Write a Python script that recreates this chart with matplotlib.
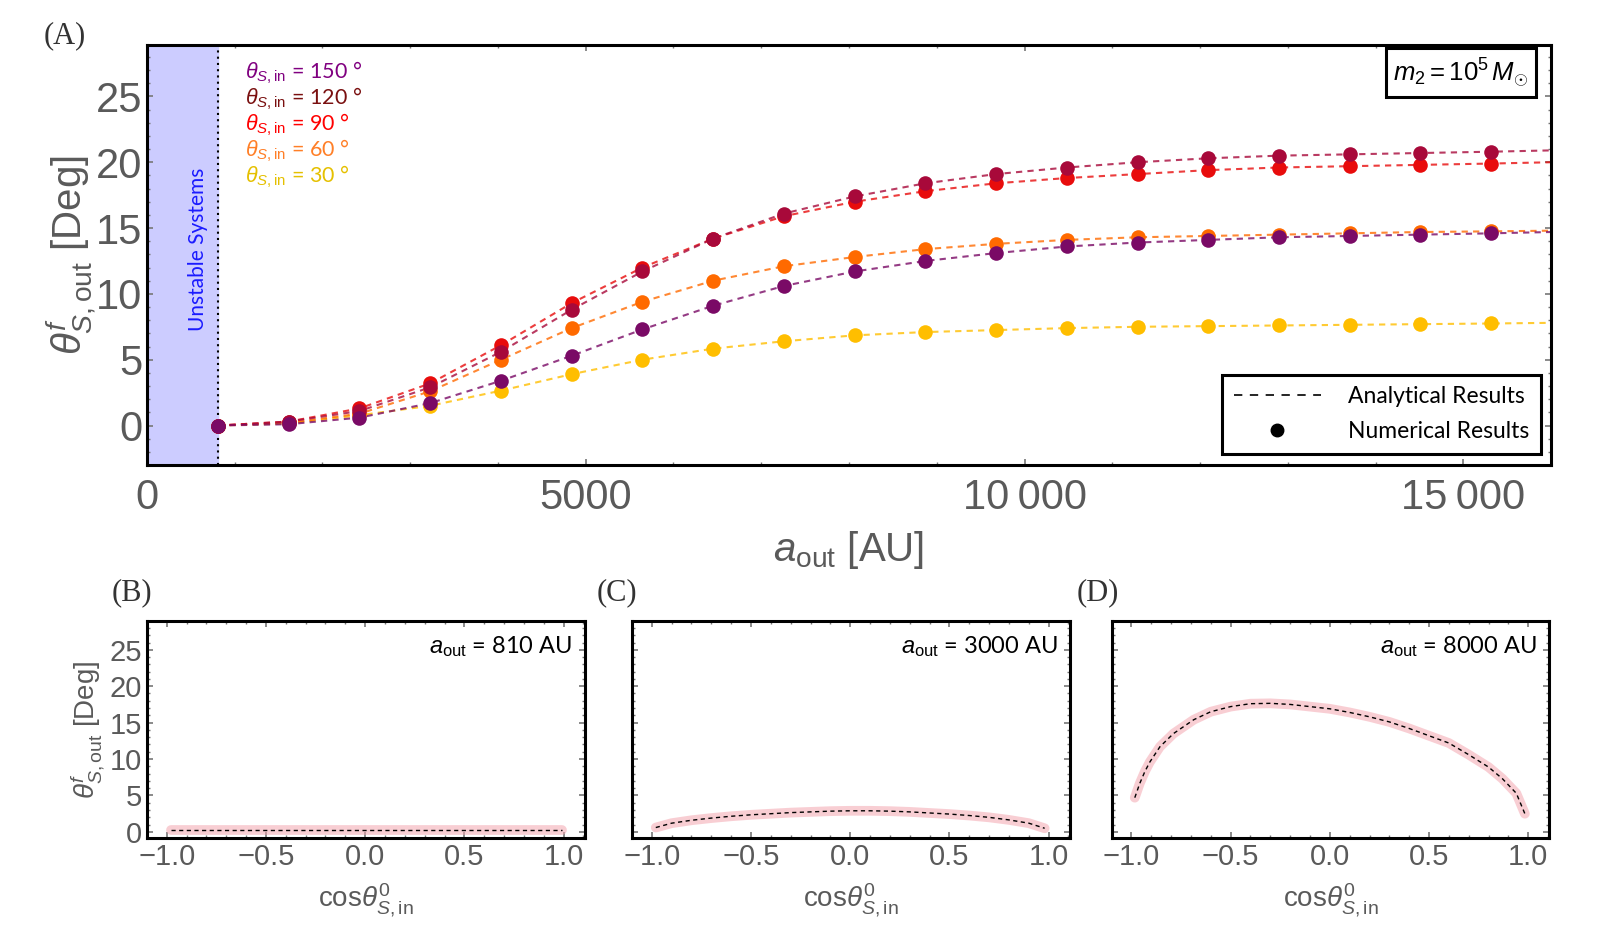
import numpy as np
import matplotlib
matplotlib.use("Agg")
from matplotlib import pyplot as plt
from matplotlib.lines import Line2D
from matplotlib.ticker import MultipleLocator, FixedLocator, FuncFormatter

plt.rcParams['font.family'] = ['Liberation Sans', 'DejaVu Sans']
plt.rcParams['mathtext.fontset'] = 'custom'
plt.rcParams['mathtext.rm'] = 'Liberation Sans'
plt.rcParams['mathtext.it'] = 'Liberation Sans:italic'
plt.rcParams['mathtext.bf'] = 'Liberation Sans:bold'

# main panel (A): a_out in AU, final spin-orbit angle in degrees
a_out = [810, 1616, 2422, 3228, 4034, 4840, 5646, 6452, 7258, 8064,
         8870, 9676, 10482, 11288, 12094, 12900, 13706, 14512, 15318]
a_end = 16000
theta150 = [0, 0.1, 0.6, 1.7, 3.4, 5.3, 7.3, 9.1, 10.6, 11.7, 12.5, 13.1, 13.6, 13.9, 14.1, 14.3, 14.4, 14.5, 14.6]
theta120 = [0, 0.3, 1.1, 2.9, 5.6, 8.8, 11.7, 14.2, 16.1, 17.4, 18.4, 19.1, 19.6, 20.0, 20.3, 20.5, 20.6, 20.7, 20.8]
theta90 = [0, 0.3, 1.3, 3.2, 6.1, 9.3, 12.0, 14.2, 15.9, 17.0, 17.8, 18.4, 18.8, 19.1, 19.4, 19.6, 19.7, 19.8, 19.9]
theta60 = [0, 0.2, 0.9, 2.6, 5.0, 7.4, 9.4, 11.0, 12.1, 12.8, 13.4, 13.8, 14.1, 14.3, 14.4, 14.5, 14.6, 14.7, 14.75]
theta30 = [0, 0.16, 0.78, 1.5, 2.65, 3.9, 5.0, 5.84, 6.4, 6.85, 7.1, 7.25, 7.4, 7.5, 7.55, 7.6, 7.65, 7.7, 7.75]
end_vals = {150: 14.7, 120: 20.9, 90: 20.0, 60: 14.8, 30: 7.8}
unstable_limit = 810

series = {150: theta150, 120: theta120, 90: theta90, 60: theta60, 30: theta30}
marker_col = {150: '#7a0a66', 120: '#a8093a', 90: '#e80c0c', 60: '#ff6a00', 30: '#ffbe00'}
text_col = {150: '#800080', 120: '#7a1010', 90: '#ff0000', 60: '#ff7f27', 30: '#e5c000'}
draw_order = [30, 60, 90, 120, 150]
label_order = [150, 120, 90, 60, 30]

# lower panels: cos(theta_in^0) vs final angle
cos_b = [-0.98, -0.5, 0.0, 0.5, 0.99]
val_b = [0.2, 0.2, 0.2, 0.2, 0.2]
cos_c = [-0.98, -0.9, -0.8, -0.7, -0.6, -0.5, -0.4, -0.3, -0.2, -0.1, 0.0,
         0.1, 0.2, 0.3, 0.4, 0.5, 0.6, 0.7, 0.8, 0.9, 0.98]
val_c = [0.6, 1.2, 1.6, 1.9, 2.15, 2.35, 2.5, 2.65, 2.75, 2.85, 2.9,
         2.9, 2.85, 2.75, 2.6, 2.45, 2.25, 2.0, 1.65, 1.2, 0.5]
cos_d = [-0.983, -0.958, -0.932, -0.907, -0.856, -0.788, -0.686, -0.6, -0.5, -0.4, -0.3, -0.2,
         -0.1, 0.0, 0.1, 0.2, 0.3, 0.4, 0.5, 0.6, 0.7, 0.8, 0.87, 0.94, 0.983]
val_d = [4.7, 6.65, 8.3, 9.6, 11.7, 13.5, 15.4, 16.5, 17.2, 17.6, 17.65, 17.5,
         17.2, 16.9, 16.4, 15.8, 15.1, 14.2, 13.2, 12.2, 10.6, 8.9, 7.3, 5.3, 2.5]
panel_aout = [810, 3000, 8000]

gray = '#5a5a5a'
text_font = 'Lato'


def style_frame(ax, size):
    for s in ax.spines.values():
        s.set_linewidth(2.2)
        s.set_color('black')
    ax.tick_params(which='both', direction='in', top=True, right=True, colors='#777777',
                   labelcolor=gray, labelsize=size)
    ax.tick_params(which='major', length=4, width=1.2)
    ax.tick_params(which='minor', length=2.5, width=1.0)


fig = plt.figure(figsize=(16.04, 9.49), dpi=100)

# ---- panel A ----
ax = fig.add_axes([0.0916, 0.510, 0.8754, 0.4425])
ax.set_xlim(0, 16000)
ax.set_ylim(-3, 28.9)
ax.axvspan(0, unstable_limit, color='#ccccff', zorder=0)
ax.axvline(unstable_limit, color='black', ls=(0, (1, 2)), lw=1.5, zorder=1)

for th in draw_order:
    ax.plot(a_out + [a_end], series[th] + [end_vals[th]], ls=(0, (3, 2.5)), lw=1.5,
            color=marker_col[th], alpha=0.8, zorder=2)
for th in draw_order:
    ax.plot(a_out, series[th], 'o', ms=10.5, color=marker_col[th], mec='none', zorder=3)

ax.xaxis.set_major_locator(FixedLocator([0, 5000, 10000, 15000]))
ax.set_xticklabels(['0', '5000', '10\u2009000', '15\u2009000'])
ax.xaxis.set_minor_locator(MultipleLocator(1000))
ax.yaxis.set_major_locator(MultipleLocator(5))
ax.yaxis.set_minor_locator(MultipleLocator(1))
style_frame(ax, 30)
ax.tick_params(axis='x', pad=9)
ax.set_xlabel(r'$a_{\mathrm{out}}$ [AU]', fontsize=29, color=gray, labelpad=8)
ax.set_ylabel(r'$\theta^{f}_{S,\mathrm{out}}$ [Deg]', fontsize=29, color=gray, labelpad=-2)

ax.text(580, 13.4, 'Unstable Systems', rotation=90, color='#1a1aff', fontsize=15,
        fontfamily=text_font, ha='center', va='center')

for i, th in enumerate(label_order):
    ax.text(0.070, 0.935 - i * 0.062, r'$\theta_{S,\mathrm{in}}$ = %d °' % th,
            transform=ax.transAxes, color=text_col[th], fontsize=15.5, fontfamily=text_font,
            va='center', ha='left')

ax.text(0.984, 0.934, r'$m_2 = 10^5\,M_{\odot}$', transform=ax.transAxes, ha='right', va='center',
        fontsize=18.5, fontfamily=text_font,
        bbox=dict(boxstyle='square,pad=0.3', fc='white', ec='black', lw=2.2))

handles = [Line2D([], [], color='black', ls=(0, (5, 4.5)), lw=1.2),
           Line2D([], [], color='black', marker='o', ls='none', ms=9)]
leg = ax.legend(handles, ['Analytical Results', 'Numerical Results'], loc='lower right',
                bbox_to_anchor=(0.9927, 0.027), borderaxespad=0,
                prop={'family': text_font, 'size': 16.5},
                handlelength=3.8, handletextpad=1.2, borderpad=0.5, labelspacing=0.6,
                fancybox=False, edgecolor='black', framealpha=1)
leg.get_frame().set_linewidth(2.2)

fig.text(0.027, 0.962, '(A)', fontsize=22, fontfamily='Liberation Serif', color='#333333', va='center')

# ---- panels B, C, D ----
lefts = [0.0916, 0.394, 0.693]
labels = ['(B)', '(C)', '(D)']
data = [(cos_b, val_b), (cos_c, val_c), (cos_d, val_d)]
for k in range(3):
    bx = fig.add_axes([lefts[k], 0.117, 0.273, 0.229])
    bx.set_xlim(-1.1, 1.107)
    bx.set_ylim(-0.83, 29)
    cx, cv = data[k]
    bx.plot(cx, cv, color='#f4a6b0', lw=7, alpha=0.55, solid_capstyle='round', zorder=2)
    bx.plot(cx, cv, color='black', ls=(0, (3, 2.5)), lw=1.0, zorder=3)
    bx.xaxis.set_major_locator(MultipleLocator(0.5))
    bx.xaxis.set_minor_locator(MultipleLocator(0.1))
    bx.yaxis.set_major_locator(MultipleLocator(5))
    bx.yaxis.set_minor_locator(MultipleLocator(1))
    bx.xaxis.set_major_formatter(FuncFormatter(lambda v, p: ('%.1f' % v).replace('-', '\u2212')))
    style_frame(bx, 21)
    if k > 0:
        bx.yaxis.set_major_formatter(FuncFormatter(lambda v, p: ''))
    else:
        bx.set_ylabel(r'$\theta^{f}_{S,\mathrm{out}}$ [Deg]', fontsize=20, color=gray, labelpad=2)
    bx.set_xlabel(r'cos$\theta^{0}_{S,\mathrm{in}}$', fontsize=20, color=gray, labelpad=8)
    bx.text(0.972, 0.88, r'$a_{\mathrm{out}}$ = %d AU' % panel_aout[k], transform=bx.transAxes,
            ha='right', va='center', fontsize=17, fontfamily=text_font)
    fig.text(lefts[k] - 0.022, 0.375, labels[k], fontsize=22, fontfamily='Liberation Serif',
             color='#333333', va='center')

fig.savefig('out.png', dpi=100)
